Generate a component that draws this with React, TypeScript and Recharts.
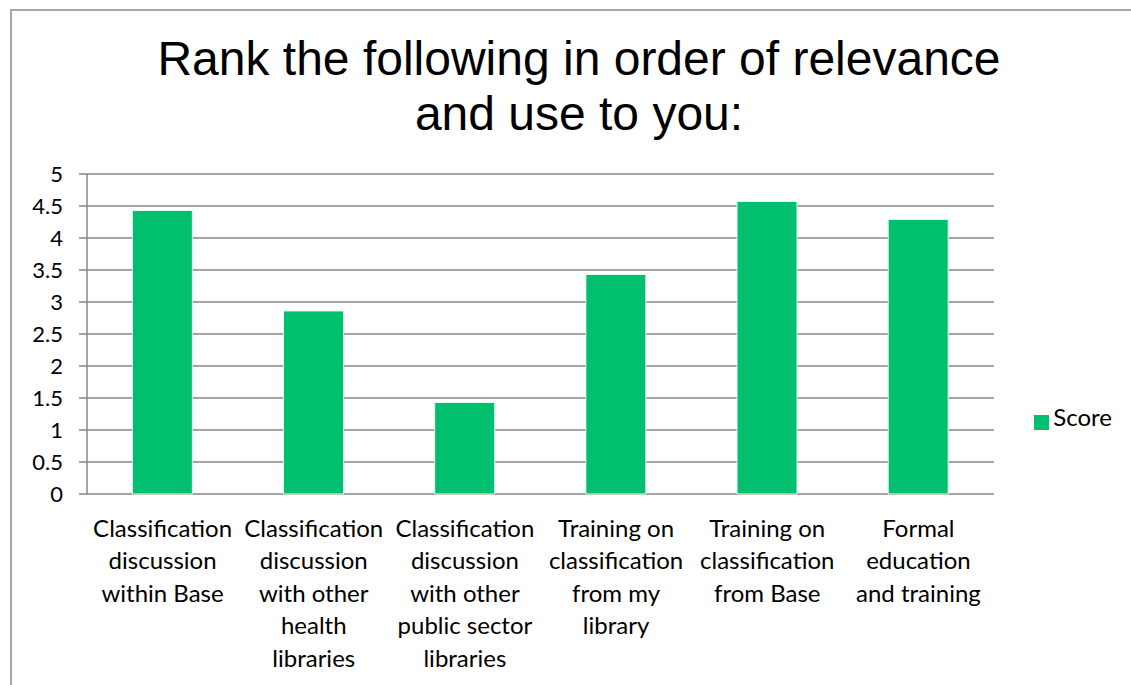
import { Bar, BarChart, CartesianGrid, Legend, XAxis, YAxis } from 'recharts';

const categories = [
  'Classification\ndiscussion\nwithin Base',
  'Classification\ndiscussion\nwith other\nhealth\nlibraries',
  'Classification\ndiscussion\nwith other\npublic sector\nlibraries',
  'Training on\nclassification\nfrom my\nlibrary',
  'Training on\nclassification\nfrom Base',
  'Formal\neducation\nand training',
];
const scores = [4.43, 2.86, 1.43, 3.43, 4.57, 4.29];
const yTicks = [0, 0.5, 1, 1.5, 2, 2.5, 3, 3.5, 4, 4.5, 5];
const edgeTicks = [0, 1, 2, 3, 4, 5, 6];

const data = categories.map((name, i) => ({ name, score: scores[i] }));

const GRID = '#868686';
const BAR = '#00BF6F';
const FONT = 'Lato, "Noto Sans", sans-serif';
const LEGEND_W = 94;

function CategoryTick(props: { x?: number; y?: number; payload?: { value: string } }) {
  const { x = 0, y = 0, payload } = props;
  const lines = (payload?.value ?? '').split('\n');
  return (
    <text x={x} y={y} textAnchor="middle" fill="#000" fontSize={24} fontFamily={FONT}>
      {lines.map((l, i) => (
        <tspan key={i} x={x} y={y + 43 + i * 32.4}>
          {l}
        </tspan>
      ))}
    </text>
  );
}

const NoTick = () => <g />;

export default function App() {
  return (
    <div style={{ position: 'absolute', left: 0, top: 0, width: 1131, height: 685, background: '#fff', overflow: 'hidden' }}>
      <div
        style={{
          position: 'absolute',
          left: 10,
          top: 9,
          width: 1200,
          height: 800,
          borderTop: '2px solid #A6A6A6',
          borderLeft: '2px solid #A6A6A6',
        }}
      />
      <div
        style={{
          position: 'absolute',
          left: 79,
          top: 31,
          width: 1000,
          textAlign: 'center',
          fontFamily: '"Liberation Sans", Arial, sans-serif',
          fontSize: 48,
          lineHeight: '55px',
          color: '#000',
        }}
      >
        Rank the following in order of relevance
        <br />
        and use to you:
      </div>
      <div style={{ position: 'absolute', left: 0, top: 0 }}>
        <BarChart
          width={1131}
          height={685}
          data={data}
          // the legend reserves LEGEND_W on the right, so subtract it here
          margin={{ top: 174, right: 137 - LEGEND_W, left: 0, bottom: 1 }}
          barCategoryGap="30%"
        >
          <CartesianGrid vertical={false} stroke={GRID} strokeWidth={1.5} />
          <XAxis
            xAxisId="edges"
            type="number"
            domain={[0, 6]}
            ticks={edgeTicks}
            tick={NoTick}
            tickSize={8}
            height={0}
            axisLine={{ stroke: GRID, strokeWidth: 1.5 }}
            tickLine={{ stroke: GRID, strokeWidth: 1.5 }}
          />
          <XAxis
            dataKey="name"
            interval={0}
            tick={<CategoryTick />}
            tickLine={false}
            axisLine={false}
            tickSize={0}
            tickMargin={0}
            height={190}
          />
          <YAxis
            domain={[0, 5]}
            ticks={yTicks}
            interval={0}
            width={87}
            tickSize={8}
            tickMargin={16}
            axisLine={{ stroke: GRID, strokeWidth: 1.5 }}
            tickLine={{ stroke: GRID, strokeWidth: 1.5 }}
            tick={{ fill: '#000', fontSize: 22, fontFamily: FONT }}
          />
          <Legend
            layout="horizontal"
            verticalAlign="middle"
            align="right"
            iconType="square"
            iconSize={15}
            wrapperStyle={{ left: 1028, top: 402, width: LEGEND_W, right: 'auto', textAlign: 'left' }}
            formatter={(v) => (
              <span style={{ color: '#000', fontSize: 24, fontFamily: FONT }}>{v}</span>
            )}
          />
          <Bar dataKey="score" name="Score" fill={BAR} stroke="#E8F8F0" strokeWidth={1} isAnimationActive={false} />
        </BarChart>
      </div>
    </div>
  );
}
